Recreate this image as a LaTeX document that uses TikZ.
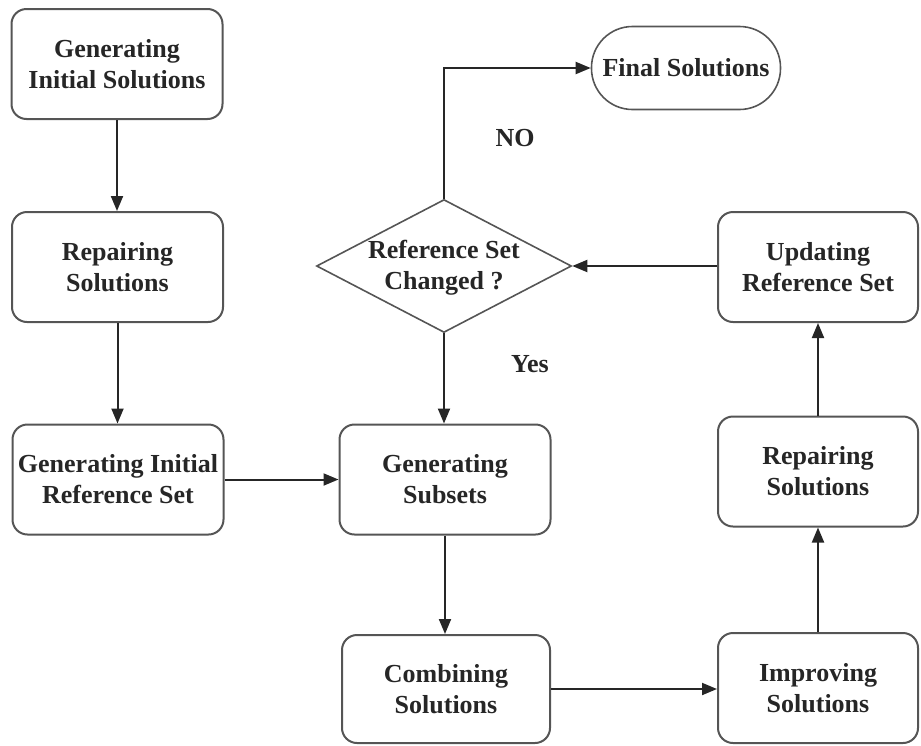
\documentclass[tikz,border=0pt]{standalone}
\usepackage{fontspec}
\setmainfont{Liberation Serif}
\usetikzlibrary{arrows.meta,shapes.geometric}
\definecolor{edgegray}{HTML}{555555}
\definecolor{inkgray}{HTML}{262626}
\begin{document}
\begin{tikzpicture}[x=1pt,y=-1pt,
  every node/.style={font=\fontsize{26}{31}\selectfont\bfseries, text=inkgray, align=center},
  procbox/.style={draw=edgegray, line width=2pt, rounded corners=15pt,
    minimum width=211pt, minimum height=110pt, inner sep=0pt},
  termbox/.style={draw=edgegray, line width=1.6pt, rounded corners=41pt,
    minimum width=189pt, minimum height=83pt, inner sep=0pt},
  decision/.style={diamond, draw=edgegray, line width=1.6pt, aspect=1.92,
    minimum width=255pt, minimum height=133pt, inner sep=0pt},
  flow/.style={draw=inkgray, line width=2pt, -{Triangle[length=15pt,width=12pt]}}
]
\useasboundingbox (0,0) rectangle (921,745);

% process steps
\node[procbox] (gis)  at (117,64)    {Generating\\Initial Solutions};
\node[procbox] (rep1) at (117.5,267) {Repairing\\Solutions};
\node[procbox] (girs) at (118,479.5) {Generating Initial\\Reference Set};
\node[procbox] (gsub) at (445,479.5) {Generating\\Subsets};
\node[procbox, minimum width=208pt, minimum height=108pt] (comb) at (446,689) {Combining\\Solutions};
\node[procbox, minimum width=200pt] (impr) at (818,688)   {Improving\\Solutions};
\node[procbox, minimum width=200pt] (rep2) at (818,471.5) {Repairing\\Solutions};
\node[procbox, minimum width=200pt] (upd)  at (818,267)   {Updating\\Reference Set};

% decision and terminal
\node[decision] (chg) at (444,266) {};
\node (chgtext) at (444,268) {Reference Set\\Changed ?};
\node[termbox] (fin) at (686,68) {Final Solutions};

% branch labels
\node (nolbl)  at (515,138) {NO};
\node (yeslbl) at (530,364) {Yes};

% connectors
\draw[flow] (gis.south) -- (gis.south |- rep1.north);
\draw[flow] (rep1.south) -- (rep1.south |- girs.north);
\draw[flow] (girs.east) -- (gsub.west);
\draw[flow] (chg.south) -- (chg.south |- gsub.north);
\draw[flow] (gsub.south) -- (gsub.south |- comb.north);
\draw[flow] (comb.east) -- (comb.east -| impr.west);
\draw[flow] (impr.north) -- (rep2.south);
\draw[flow] (rep2.north) -- (upd.south);
\draw[flow] (chg.east -| upd.west) -- (chg.east);
\draw[flow] (chg.north) |- (fin.west);
\end{tikzpicture}
\end{document}
